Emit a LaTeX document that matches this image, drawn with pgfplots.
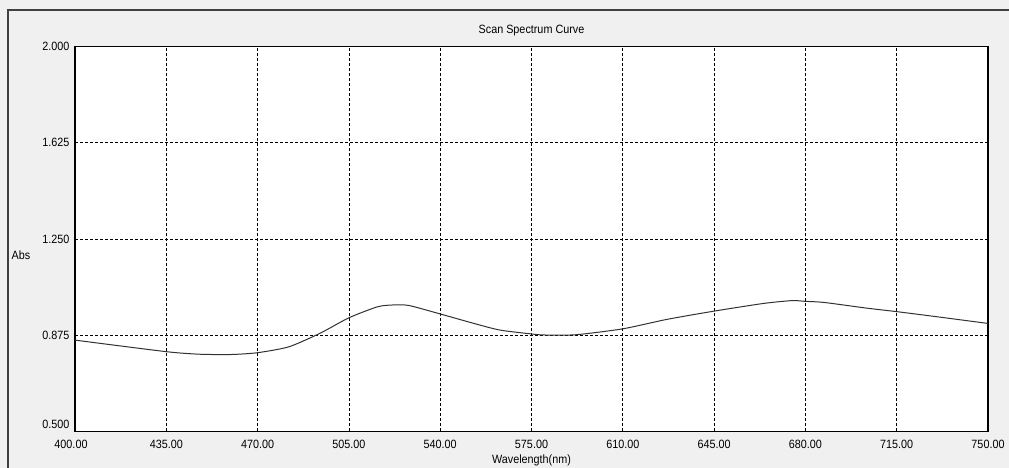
\documentclass[border=0pt]{standalone}
\usepackage{fontspec}
\setmainfont[FakeStretch=0.9]{Liberation Sans}
\usepackage{pgfplots}
\pgfplotsset{compat=1.18}
\definecolor{bggray}{RGB}{240,240,240}
\definecolor{framegray}{RGB}{64,64,64}
\definecolor{curve}{RGB}{50,50,50}
\begin{document}
\begin{tikzpicture}[x=1pt,y=1pt]
\path[use as bounding box] (0,0) rectangle (1009,468);
\fill[bggray] (0,0) rectangle (1009,468);
\draw[line width=2pt, framegray] (8,-5) -- (8,458) -- (1015,458);
\begin{axis}[
  at={(75pt,36.5pt)}, anchor=south west,
  scale only axis, width=913pt, height=385pt,
  xmin=400, xmax=750, ymin=0.5, ymax=2,
  xtick={435,470,505,540,575,610,645,680,715,750},
  ytick={0.875,1.25,1.625,2},
  extra x ticks={400},
  extra x tick style={xticklabel style={xshift=-4pt}},
  extra y ticks={0.5},
  extra y tick style={yticklabel style={yshift=7pt}},
  axis background/.style={fill=white},
  axis line style={black, line width=1.2pt},
  major tick length=0pt,
  grid=major,
  major grid style={black, line width=0.8pt, dash pattern=on 3pt off 2pt},
  /pgf/number format/assume math mode=true,
  xticklabel={\pgfmathprintnumber[fixed,fixed zerofill,precision=2,1000 sep={}]{\tick}},
  yticklabel={\pgfmathprintnumber[fixed,fixed zerofill,precision=3]{\tick}},
  xticklabel style={font=\fontsize{12}{12}\selectfont, yshift=-5pt},
  yticklabel style={font=\fontsize{12}{12}\selectfont, xshift=-2pt},
  every axis title shift=0pt,
  title={Scan Spectrum Curve},
  title style={font=\fontsize{12}{12}\selectfont, at={(axis description cs:0.5,1.0403)}, anchor=center},
  xlabel={Wavelength(nm)},
  xlabel style={font=\fontsize{12}{12}\selectfont, at={(axis description cs:0.5,-0.0755)}, anchor=center},
  ylabel={Abs},
  ylabel style={font=\fontsize{12}{12}\selectfont, rotate=-90, at={(axis description cs:-0.0591,0.4584)}, anchor=center},
]
\addplot[curve, line width=1pt, smooth, tension=0.4] coordinates {
(400,0.856) (435,0.811) (448,0.801) (460,0.800) (470,0.807) (482,0.830)
(494,0.883) (505,0.943) (516,0.986) (522,0.993) (528,0.991) (540,0.958)
(554,0.918) (563,0.895) (575,0.880) (580,0.876) (592,0.877) (610,0.900)
(627,0.937) (645,0.969) (664,0.999) (675,1.010) (680,1.007) (687,1.003)
(704,0.980) (715,0.967) (732,0.945) (750,0.921)
};
\end{axis}
\end{tikzpicture}
\end{document}
